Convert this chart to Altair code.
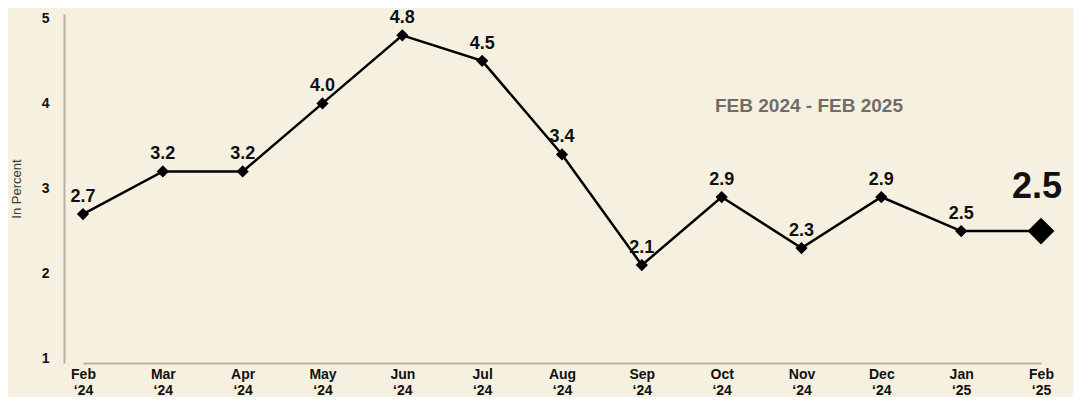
import altair as alt
import pandas as pd

months = ["Feb ‘24", "Mar ‘24", "Apr ‘24", "May ‘24", "Jun ‘24", "Jul ‘24", "Aug ‘24",
          "Sep ‘24", "Oct ‘24", "Nov ‘24", "Dec ‘24", "Jan ‘25", "Feb ‘25"]
values = [2.7, 3.2, 3.2, 4.0, 4.8, 4.5, 3.4, 2.1, 2.9, 2.3, 2.9, 2.5, 2.5]
is_last = [False] * 12 + [True]
y_ticks = [1, 2, 3, 4, 5]
subtitle = ["FEB 2024 - FEB 2025"]

df = pd.DataFrame({"month": months, "value": values, "last": is_last})
df["label"] = [f"{v:.1f}" for v in values]

BG = "#f6f0e1"
FONT = "Liberation Sans"

x = alt.X("month:N", sort=months,
          scale=alt.Scale(type="point", padding=0, range=[19, 977]),
          axis=alt.Axis(title=None, labelAngle=0, labelExpr="split(datum.label, ' ')",
                        labelFont=FONT, labelFontWeight="bold", labelFontSize=14,
                        labelColor="#111111", labelLineHeight=16, labelPadding=4,
                        ticks=False, domainColor="#b8b1a2", domainWidth=2))
y = alt.Y("value:Q", scale=alt.Scale(domain=[0.95, 5.05], nice=False, zero=False),
          axis=alt.Axis(title="In Percent", values=y_ticks, grid=False, ticks=False,
                        labelFont=FONT, labelFontWeight="bold", labelFontSize=14,
                        labelColor="#111111", labelPadding=15,
                        titleFont=FONT, titleFontWeight="normal", titleFontSize=13,
                        titleColor="#3a3a3a", titlePadding=18,
                        domainColor="#b8b1a2", domainWidth=2))

base = alt.Chart(df)

line = base.mark_line(color="#000000", strokeWidth=2.5).encode(x=x, y=y)

small_pts = base.transform_filter("!datum.last").mark_point(
    shape="diamond", filled=True, color="#000000", size=150, opacity=1).encode(x=x, y=y)
big_pt = base.transform_filter("datum.last").mark_point(
    shape="diamond", filled=True, color="#000000", size=720, opacity=1).encode(x=x, y=y)

small_lbl = base.transform_filter("!datum.last").mark_text(
    font=FONT, fontWeight="bold", fontSize=18, color="#111111", dy=-17,
    baseline="middle").encode(x=x, y=y, text="label:N")
big_lbl = base.transform_filter("datum.last").mark_text(
    font=FONT, fontWeight="bold", fontSize=36, color="#111111", dy=-44,
    baseline="middle", dx=-4).encode(x=x, y=y, text="label:N")

title = alt.Chart(pd.DataFrame({"t": subtitle})).mark_text(
    font=FONT, fontWeight="bold", fontSize=19, color="#6f6e66", align="center",
    baseline="middle").encode(x=alt.value(745), y=alt.value(92), text="t:N")

chart = alt.layer(line, small_pts, big_pt, small_lbl, big_lbl, title).properties(
    width=1008, height=349, background=BG, autosize="none",
    padding={"left": 56, "top": 6, "right": 1, "bottom": 34}
).configure_view(stroke=None)

chart.save("out.html", embed_options={"renderer": "svg", "actions": False})
